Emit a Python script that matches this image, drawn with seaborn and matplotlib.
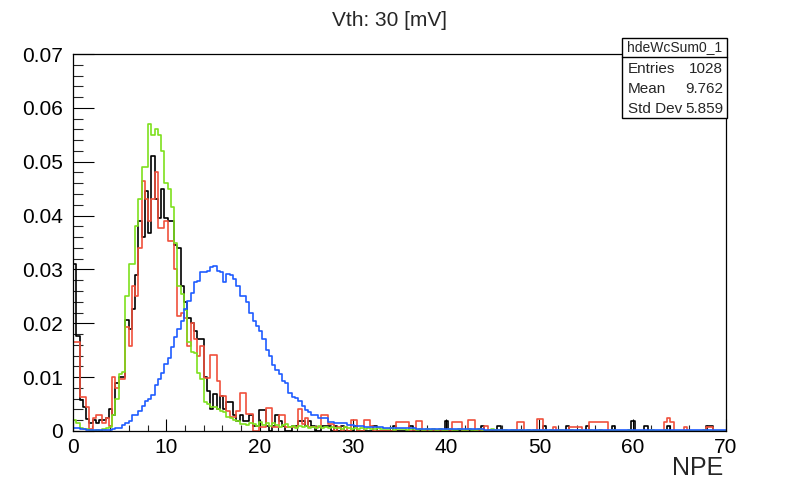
import numpy as np
import pandas as pd
import matplotlib
matplotlib.use("Agg")
import matplotlib.pyplot as plt
import seaborn as sns
from matplotlib.ticker import MultipleLocator, FuncFormatter
from matplotlib.patches import Rectangle
from matplotlib.lines import Line2D

# ---------------- data (bin contents in units of 1e-3, 200 bins over 0..70 NPE) -------------
X_MIN, X_MAX, N_BINS = 0.0, 70.0, 200

black_pm = [
    31.0, 17.6, 5.8, 4.5, 2.3, 1.5, 2.0, 1.5, 2.0, 2.0,
    2.5, 4.0, 3.0, 9.0, 10.0, 10.0, 20.7, 19.0, 22.6, 29.0,
    39.0, 36.0, 44.5, 36.7, 51.0, 43.0, 39.5, 45.0, 39.5, 39.0,
    39.0, 34.5, 34.0, 27.0, 24.0, 21.0, 20.0, 18.5, 17.0, 17.0,
    10.0, 7.5, 4.0, 6.9, 4.0, 6.5, 4.0, 5.3, 5.3, 3.0,
    1.9, 2.9, 1.9, 1.9, 2.9, 1.0, 1.0, 3.9, 3.9, 1.0,
    0.0, 1.0, 2.9, 1.9, 1.0, 0.0, 0.0, 1.0, 1.0, 1.9,
    1.9, 1.0, 1.9, 1.0, 0.0, 0.0, 1.0, 1.0, 1.0, 0.0,
    1.0, 0.0, 1.0, 0.0, 0.0, 0.0, 1.0, 0.0, 0.0, 0.0,
    0.0, 0.0, 1.0, 0.0, 0.0, 0.0, 0.0, 0.0, 1.0, 0.0,
    0.0, 0.0, 0.0, 1.0, 0.0, 0.0, 0.0, 0.0, 0.0, 0.0,
    0.0, 0.0, 0.0, 0.0, 1.9, 0.0, 0.0, 0.0, 0.0, 0.0,
    0.0, 0.0, 0.0, 0.0, 0.0, 1.0, 0.0, 0.0, 0.0, 0.0,
    1.0, 0.0, 0.0, 0.0, 0.0, 0.0, 0.0, 0.0, 0.0, 0.0,
    0.0, 0.0, 0.0, 0.0, 1.0, 0.0, 0.0, 0.0, 0.0, 0.0,
    0.0, 1.0, 0.0, 0.0, 0.0, 0.0, 0.0, 1.0, 0.0, 0.0,
    0.0, 0.0, 0.0, 0.0, 0.0, 1.0, 0.0, 0.0, 0.0, 0.0,
    0.0, 1.9, 0.0, 0.0, 0.0, 1.0, 0.0, 0.0, 0.0, 0.0,
    0.0, 0.0, 1.0, 0.0, 0.0, 0.0, 0.0, 0.0, 0.0, 0.0,
    0.0, 0.0, 0.0, 0.0, 1.0, 1.0, 0.0, 0.0, 0.0, 0.0,
]

red_pm = [
    16.5, 16.5, 6.4, 6.4, 4.5, 0.3, 2.5, 3.0, 3.0, 1.5,
    2.5, 1.0, 10.0, 8.0, 9.7, 9.7, 19.3, 15.8, 27.0, 25.0,
    34.0, 46.4, 43.0, 39.0, 43.0, 48.0, 37.6, 37.6, 39.0, 35.2,
    35.2, 30.0, 21.4, 22.0, 21.0, 15.8, 20.0, 17.0, 14.0, 15.8,
    9.8, 9.8, 14.2, 14.2, 9.2, 6.5, 6.5, 3.8, 2.6, 2.6,
    3.8, 7.1, 7.1, 3.2, 3.2, 0.0, 0.0, 0.8, 0.8, 4.3,
    4.3, 0.8, 0.8, 3.0, 3.0, 0.8, 0.8, 0.8, 0.8, 4.0,
    1.3, 2.4, 0.8, 0.8, 0.8, 0.8, 3.0, 3.0, 1.3, 1.3,
    0.0, 0.8, 0.0, 0.8, 0.0, 2.0, 2.0, 0.0, 0.0, 2.0,
    2.0, 1.0, 0.0, 0.0, 0.0, 0.0, 0.0, 0.0, 0.0, 1.7,
    1.7, 1.7, 1.7, 0.0, 0.0, 1.8, 1.8, 0.0, 0.0, 0.0,
    0.0, 0.0, 0.0, 0.0, 0.0, 0.0, 1.6, 1.6, 1.6, 0.0,
    0.0, 2.0, 2.0, 0.0, 0.0, 0.0, 1.0, 0.0, 0.0, 0.0,
    0.0, 0.0, 0.0, 0.0, 0.0, 0.0, 1.6, 1.6, 0.0, 0.0,
    0.0, 0.0, 2.2, 2.2, 0.0, 0.0, 0.0, 0.8, 0.0, 0.0,
    0.0, 0.0, 0.8, 0.8, 0.8, 0.8, 0.0, 0.0, 1.6, 1.6,
    1.6, 1.6, 1.6, 1.6, 0.0, 0.0, 0.0, 0.0, 0.0, 0.0,
    0.0, 0.0, 0.0, 0.0, 0.0, 0.0, 0.0, 0.0, 0.0, 0.0,
    0.0, 1.6, 2.5, 1.6, 0.0, 0.0, 0.0, 0.8, 0.0, 0.0,
    0.0, 0.0, 0.0, 0.0, 0.8, 0.8, 0.0, 0.0, 0.0, 0.0,
]

green_pm = [
    2.0, 1.5, 0.5, 0.3, 0.3, 0.2, 0.0, 0.2, 0.0, 0.3,
    0.5, 0.8, 3.0, 6.0, 10.5, 11.0, 25.0, 31.0, 31.0, 38.0,
    43.0, 49.0, 49.0, 57.0, 55.0, 56.0, 55.0, 52.0, 46.0, 45.0,
    41.5, 35.0, 27.0, 25.5, 22.5, 16.5, 14.6, 14.5, 10.8, 9.7,
    5.4, 5.0, 4.5, 4.5, 4.0, 3.8, 3.6, 2.6, 2.4, 2.0,
    1.8, 1.3, 1.3, 1.2, 1.5, 1.3, 1.0, 1.6, 1.2, 1.5,
    1.0, 1.4, 1.2, 0.8, 1.1, 1.3, 0.8, 1.0, 0.6, 1.0,
    0.7, 0.9, 0.5, 0.8, 0.6, 0.9, 0.5, 0.7, 0.6, 0.8,
    0.5, 0.6, 0.4, 0.7, 0.5, 0.4, 0.6, 0.3, 0.5, 0.4,
    0.5, 0.3, 0.4, 0.5, 0.3, 0.4, 0.3, 0.5, 0.2, 0.4,
    0.3, 0.4, 0.2, 0.3, 0.4, 0.2, 0.3, 0.2, 0.4, 0.2,
    0.3, 0.2, 0.3, 0.2, 0.2, 0.3, 0.2, 0.2, 0.3, 0.2,
    0.2, 0.3, 0.2, 0.2, 0.3, 0.2, 0.0, 0.2, 0.3, 0.2,
    0.2, 0.0, 0.2, 0.0, 0.2, 0.2, 0.0, 0.2, 0.0, 0.2,
    0.0, 0.2, 0.0, 0.0, 0.2, 0.0, 0.2, 0.0, 0.0, 0.2,
    0.0, 0.0, 0.2, 0.0, 0.0, 0.2, 0.0, 0.0, 0.2, 0.0,
    0.0, 0.2, 0.0, 0.0, 0.0, 0.2, 0.0, 0.0, 0.0, 0.0,
    0.2, 0.0, 0.0, 0.0, 0.0, 0.0, 0.0, 0.2, 0.0, 0.0,
    0.0, 0.2, 0.0, 0.0, 0.0, 0.0, 0.0, 0.0, 0.0, 0.0,
    0.0, 0.0, 0.0, 0.2, 0.0, 0.0, 0.0, 0.0, 0.0, 0.0,
]

blue_pm = [
    0.5, 0.5, 0.4, 0.3, 0.2, 0.2, 0.2, 0.2, 0.2, 0.2,
    0.2, 0.2, 0.3, 0.6, 0.6, 1.2, 1.5, 1.8, 3.0, 3.0,
    3.7, 4.6, 5.5, 6.0, 6.6, 8.5, 9.6, 10.8, 12.5, 13.6,
    15.6, 17.4, 19.0, 20.5, 22.7, 24.2, 25.7, 27.6, 27.9, 29.5,
    29.5, 29.8, 30.4, 30.7, 29.8, 29.5, 27.6, 29.2, 29.0, 28.3,
    27.0, 25.1, 25.0, 23.9, 22.0, 20.5, 19.5, 18.6, 17.0, 15.1,
    13.9, 12.3, 11.4, 10.5, 9.2, 9.0, 7.0, 6.4, 6.1, 5.5,
    4.6, 3.9, 3.6, 3.0, 3.0, 2.4, 2.4, 2.4, 1.7, 1.7,
    1.4, 1.4, 1.5, 1.4, 1.2, 1.1, 1.0, 0.9, 0.9, 0.8,
    0.8, 0.8, 0.7, 0.7, 0.7, 0.6, 0.6, 0.6, 0.6, 0.5,
    0.5, 0.5, 0.5, 0.5, 0.5, 0.4, 0.4, 0.4, 0.4, 0.4,
    0.4, 0.4, 0.4, 0.3, 0.3, 0.3, 0.3, 0.3, 0.3, 0.3,
    0.3, 0.3, 0.3, 0.3, 0.3, 0.3, 0.2, 0.2, 0.2, 0.2,
    0.2, 0.2, 0.2, 0.2, 0.2, 0.2, 0.2, 0.2, 0.2, 0.2,
    0.2, 0.2, 0.2, 0.2, 0.2, 0.2, 0.2, 0.2, 0.2, 0.2,
    0.2, 0.2, 0.1, 0.2, 0.2, 0.1, 0.2, 0.2, 0.1, 0.2,
    0.1, 0.2, 0.1, 0.1, 0.2, 0.1, 0.1, 0.2, 0.1, 0.1,
    0.1, 0.1, 0.2, 0.1, 0.1, 0.1, 0.1, 0.1, 0.1, 0.1,
    0.1, 0.1, 0.1, 0.1, 0.1, 0.1, 0.1, 0.1, 0.1, 0.1,
    0.1, 0.1, 0.1, 0.1, 0.1, 0.1, 0.1, 0.1, 0.1, 0.1,
]

series_names = ["black", "red", "green", "blue"]
series_colors = ["#000000", "#f0503c", "#7ee01e", "#1f5cff"]
series_values = [black_pm, red_pm, green_pm, blue_pm]

title_text = "Vth: 30 [mV]"
x_title = "NPE"
stats_name = "hdeWcSum0_1"
stats_labels = ["Entries", "Mean", "Std Dev"]
stats_values = ["1028", "9.762", "5.859"]

# ---------------- figure ----------------
W, H = 785, 492
sns.set_theme(style="ticks")
plt.rcParams["font.family"] = ["Liberation Sans", "DejaVu Sans"]

fig = plt.figure(figsize=(W / 100, H / 100), dpi=100)
fig.patch.set_facecolor("white")

ax_l, ax_r, ax_t, ax_b = 73, 726, 54, 431
ax = fig.add_axes([ax_l / W, 1 - ax_b / H, (ax_r - ax_l) / W, (ax_b - ax_t) / H])
ax.set_facecolor("white")

edges = np.linspace(X_MIN, X_MAX, N_BINS + 1)
centers = 0.5 * (edges[:-1] + edges[1:])

for name, vals, col in zip(series_names, series_values, series_colors):
    df = pd.DataFrame({"npe": centers, "w": np.asarray(vals, dtype=float) / 1000.0})
    sns.histplot(data=df, x="npe", weights="w", bins=N_BINS, binrange=(X_MIN, X_MAX),
                 element="step", fill=False, color=col, linewidth=1.2, ax=ax)

ax.set_xlim(X_MIN, X_MAX)
ax.set_ylim(0, 0.07)
ax.set_xlabel("")
ax.set_ylabel("")

ax.xaxis.set_major_locator(MultipleLocator(10))
ax.xaxis.set_minor_locator(MultipleLocator(2))
ax.yaxis.set_major_locator(MultipleLocator(0.01))
ax.yaxis.set_minor_locator(MultipleLocator(0.002))
ax.yaxis.set_major_formatter(FuncFormatter(lambda v, p: "0" if abs(v) < 1e-9 else f"{v:.2f}"))
ax.xaxis.set_major_formatter(FuncFormatter(lambda v, p: f"{v:.0f}"))

ax.tick_params(axis="x", which="major", direction="in", length=8.5, width=0.8,
               top=False, pad=5, labelsize=15, colors="black")
ax.tick_params(axis="x", which="minor", direction="in", length=4.3, width=0.8, top=False)
ax.tick_params(axis="y", which="major", direction="in", length=15, width=0.8,
               right=False, pad=7, labelsize=15, colors="black")
ax.tick_params(axis="y", which="minor", direction="in", length=7.5, width=0.8, right=False)
for sp in ax.spines.values():
    sp.set_color("black")
    sp.set_linewidth(0.9)
    sp.set_visible(True)


def fx(x):
    return x / W


def fy(y):
    return 1 - y / H


# title and axis title
fig.text(fx(390), fy(20), title_text, ha="center", va="center", fontsize=15)
fig.text(fx(723), fy(468), x_title, ha="right", va="center", fontsize=18)

# stats box
bx0, bx1, by0, by1, bsep = 622, 727, 38, 118, 57
fig.add_artist(Rectangle((fx(bx0), fy(by1)), fx(bx1) - fx(bx0), fy(by0) - fy(by1),
                         transform=fig.transFigure, facecolor="white",
                         edgecolor="black", linewidth=1.0, zorder=10))
fig.add_artist(Line2D([fx(bx0), fx(bx1)], [fy(bsep), fy(bsep)],
                      transform=fig.transFigure, color="black", linewidth=1.0, zorder=11))
fig.text(fx(675), fy(47.5), stats_name, ha="center", va="center",
         fontsize=10, zorder=12)
for i, (lab, val) in enumerate(zip(stats_labels, stats_values)):
    yy = 69 + i * 20
    fig.text(fx(628), fy(yy), lab, ha="left", va="center", fontsize=11, zorder=12)
    fig.text(fx(723), fy(yy), val, ha="right", va="center", fontsize=11, zorder=12)

fig.savefig("out.png", dpi=100, facecolor="white")
